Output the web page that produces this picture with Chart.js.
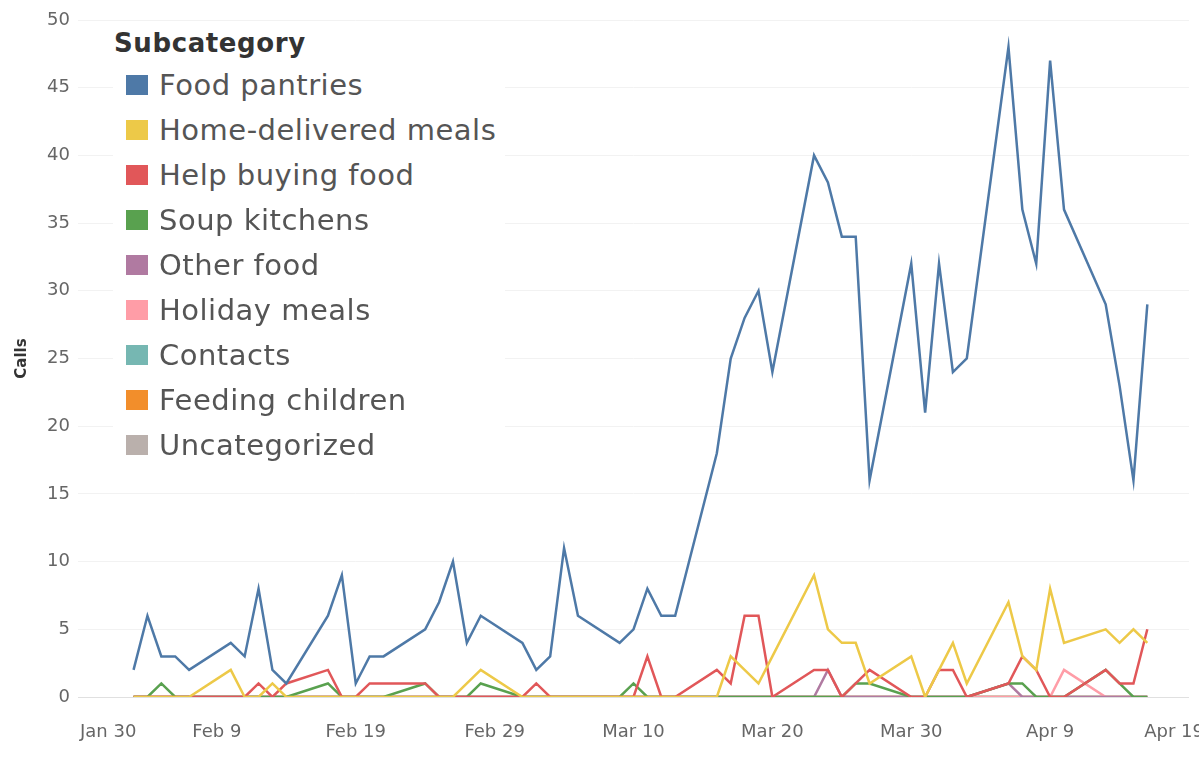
<!DOCTYPE html>
<html>
<head>
<meta charset="utf-8">
<script src="https://cdn.jsdelivr.net/npm/chart.js@4.4.1/dist/chart.umd.min.js"></script>
<style>
  html, body { margin: 0; padding: 0; background: #fff; }
  #wrap { position: relative; width: 1199px; height: 771px; overflow: hidden; }
  #legend { position: absolute; left: 113px; top: 22px; width: 392px; height: 442px; background: #fff; font-family: "DejaVu Sans", sans-serif; }
  #legend .title { position: absolute; left: 1px; top: 6px; font-weight: bold; font-size: 26px; line-height: 30px; color: #333; letter-spacing: 0.6px; }
  #legend .row { position: absolute; left: 0; height: 45px; line-height: 45px; font-size: 29px; color: #555; white-space: nowrap; letter-spacing: 0.5px; }
  #legend .sw { position: absolute; left: 13px; top: 12px; width: 22px; height: 20px; }
  #legend .lbl { position: absolute; left: 46px; top: 0; }
</style>
</head>
<body>
<div id="wrap">
  <canvas id="chart" width="1199" height="771"></canvas>
  <div id="legend"><div class="title">Subcategory</div></div>
</div>
<script>
// weekdays only, the source has no weekend rows
const dates = [
  '2020-02-03','2020-02-04','2020-02-05','2020-02-06','2020-02-07',
  '2020-02-10','2020-02-11','2020-02-12','2020-02-13','2020-02-14',
  '2020-02-17','2020-02-18','2020-02-19','2020-02-20','2020-02-21',
  '2020-02-24','2020-02-25','2020-02-26','2020-02-27','2020-02-28',
  '2020-03-02','2020-03-03','2020-03-04','2020-03-05','2020-03-06',
  '2020-03-09','2020-03-10','2020-03-11','2020-03-12','2020-03-13',
  '2020-03-16','2020-03-17','2020-03-18','2020-03-19','2020-03-20',
  '2020-03-23','2020-03-24','2020-03-25','2020-03-26','2020-03-27',
  '2020-03-30','2020-03-31','2020-04-01','2020-04-02','2020-04-03',
  '2020-04-06','2020-04-07','2020-04-08','2020-04-09','2020-04-10',
  '2020-04-13','2020-04-14','2020-04-15','2020-04-16'
];

const foodPantries = [2,6,3,3,2, 4,3,8,2,1, 6,9,1,3,3, 5,7,10,4,6, 4,2,3,11,6, 4,5,8,6,6,
  18,25,28,30,24, 40,38,34,34,16, 32,21,32,24,25, 48,36,32,47,36, 29,23,16,29];
const homeDelivered = [0,0,0,0,0, 2,0,0,1,0, 0,0,0,0,0, 0,0,0,1,2, 0,0,0,0,0, 0,0,0,0,0,
  0,3,2,1,3, 9,5,4,4,1, 3,0,2,4,1, 7,3,2,8,4, 5,4,5,4];
const helpBuying = [0,0,0,0,0, 0,0,1,0,1, 2,0,0,1,1, 1,0,0,0,0, 0,1,0,0,0, 0,0,3,0,0,
  2,1,6,6,0, 2,2,0,1,2, 0,0,2,2,0, 1,3,2,0,0, 2,1,1,5];
const soupKitchens = [0,0,1,0,0, 0,0,0,0,0, 1,0,0,0,0, 1,0,0,0,1, 0,0,0,0,0, 0,1,0,0,0,
  0,0,0,0,0, 0,0,0,1,1, 0,0,0,0,0, 1,1,0,0,0, 2,1,0,0];
const otherFood = [0,0,0,0,0, 0,0,0,0,0, 0,0,0,0,0, 0,0,0,0,0, 0,0,0,0,0, 0,0,0,0,0,
  0,0,0,0,0, 0,2,0,0,0, 0,0,0,0,0, 1,0,0,0,0, 0,0,0,0];
const holidayMeals = [0,0,0,0,0, 0,0,0,0,0, 0,0,0,0,0, 0,0,0,0,0, 0,0,0,0,0, 0,0,0,0,0,
  0,0,0,0,0, 0,0,0,0,0, 0,0,0,0,0, 0,0,0,0,2, 0,0,0,0];
const contacts = dates.map(() => 0);
const feedingChildren = dates.map(() => 0);
const uncategorized = dates.map(() => 0);

const seriesNames = ['Food pantries','Home-delivered meals','Help buying food','Soup kitchens','Other food','Holiday meals','Contacts','Feeding children','Uncategorized'];
const seriesColors = ['#4e79a7','#edc948','#e15759','#59a14f','#b07aa1','#ff9da7','#76b7b2','#f28e2b','#bab0ac'];
const seriesValues = [foodPantries, homeDelivered, helpBuying, soupKitchens, otherFood, holidayMeals, contacts, feedingChildren, uncategorized];

const xTicks = ['2020-01-30','2020-02-09','2020-02-19','2020-02-29','2020-03-10','2020-03-20','2020-03-30','2020-04-09','2020-04-19'];
const xTickLabels = ['Jan 30','Feb 9','Feb 19','Feb 29','Mar 10','Mar 20','Mar 30','Apr 9','Apr 19'];
const yTicks = [0,5,10,15,20,25,30,35,40,45,50];

const origin = Date.parse('2020-01-30');
const dayOf = s => Math.round((Date.parse(s) - origin) / 864e5);

// legend
const legend = document.getElementById('legend');
seriesNames.forEach((name, i) => {
  const row = document.createElement('div');
  row.className = 'row';
  row.style.top = (40.5 + 45 * i) + 'px';
  row.innerHTML = '<span class="sw" style="background:' + seriesColors[i] + '"></span><span class="lbl">' + name + '</span>';
  legend.appendChild(row);
});

const xLabelPlugin = {
  id: 'xLabels',
  afterDraw(chart) {
    const ctx = chart.ctx, xs = chart.scales.x, area = chart.chartArea;
    ctx.save();
    ctx.font = '18px "DejaVu Sans"';
    ctx.fillStyle = '#666';
    ctx.textAlign = 'left';
    ctx.textBaseline = 'alphabetic';
    xTicks.forEach((d, i) => {
      const txt = xTickLabels[i];
      const w = ctx.measureText(txt).width;
      let left = xs.getPixelForValue(dayOf(d)) - w / 2;
      if (left < area.left + 2) left = area.left + 2;
      if (left + w > 1204) left = 1204 - w;
      ctx.fillText(txt, left, 737);
    });
    ctx.restore();
  }
};

new Chart(document.getElementById('chart'), {
  type: 'line',
  data: {
    datasets: seriesNames.map((name, i) => ({
      label: name,
      data: dates.map((d, j) => ({ x: dayOf(d), y: seriesValues[i][j] })),
      borderColor: seriesColors[i],
      backgroundColor: seriesColors[i],
      borderWidth: 2.5,
      pointRadius: 0,
      tension: 0
    }))
  },
  options: {
    responsive: false,
    animation: false,
    layout: { padding: { left: 0, right: 10, top: 20, bottom: 0 } },
    plugins: { legend: { display: false }, tooltip: { enabled: false } },
    scales: {
      x: {
        type: 'linear',
        min: dayOf(xTicks[0]),
        max: dayOf(xTicks[xTicks.length - 1]),
        grid: { display: false },
        border: { display: false },
        ticks: { display: false },
        afterFit(scale) { scale.height = 74; scale.paddingLeft = 0; scale.paddingRight = 0; }
      },
      y: {
        min: yTicks[0],
        max: yTicks[yTicks.length - 1],
        afterBuildTicks(scale) { scale.ticks = yTicks.map(v => ({ value: v })); },
        grid: {
          drawTicks: false,
          color: c => c.tick && c.tick.value === 0 ? '#e0e0e0' : '#f2f2f2',
          lineWidth: 1
        },
        border: { display: false },
        ticks: { padding: 8, color: '#666', font: { family: 'DejaVu Sans', size: 18 } },
        title: { display: true, text: 'Calls', color: '#333', font: { family: 'DejaVu Sans', size: 15, weight: 'bold' }, padding: { top: 13, bottom: 0 } },
        afterFit(scale) { scale.width = 78; }
      }
    }
  },
  plugins: [xLabelPlugin]
});
</script>
</body>
</html>
